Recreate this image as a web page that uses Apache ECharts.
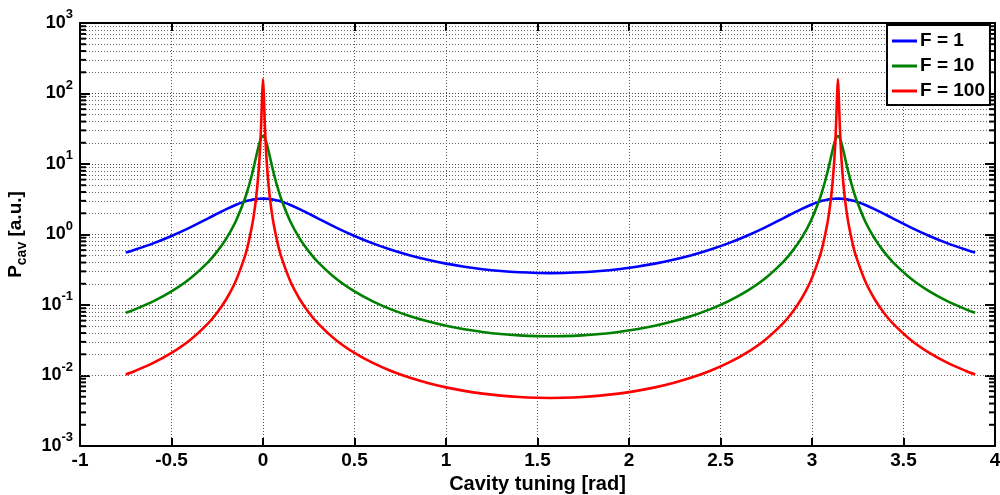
<!DOCTYPE html>
<html>
<head>
<meta charset="utf-8">
<script src="https://cdn.jsdelivr.net/npm/echarts@6/dist/echarts.min.js"></script>
<style>html,body{margin:0;padding:0;background:#fff;}#c{width:1000px;height:495px;}</style>
</head>
<body>
<div id="c"></div>
<script>
// ---- data ----
const xValues = [
  -0.75,-0.7,-0.6,-0.5,-0.4,-0.3,-0.25,-0.2,-0.15,-0.1,
  -0.08,-0.06,-0.05,-0.04,-0.03,-0.02,-0.015,-0.01,-0.005,0,
  0.005,0.01,0.015,0.02,0.03,0.04,0.05,0.06,0.08,0.1,
  0.15,0.2,0.25,0.3,0.4,0.5,0.6,0.7,0.8,0.9,
  1.0,1.1,1.2,1.3,1.4,1.5,1.571,
  1.6416,1.7416,1.8416,1.9416,2.0416,2.1416,2.2416,2.3416,2.4416,2.5416,
  2.6416,2.7416,2.8416,2.8916,2.9416,2.9916,3.0416,3.0616,3.0816,3.0916,
  3.1016,3.1116,3.1216,3.1266,3.1316,3.1366,3.1416,3.1466,3.1516,3.1566,
  3.1616,3.1716,3.1816,3.1916,3.2016,3.2216,3.2416,3.2916,3.3416,3.3916,
  3.4416,3.5416,3.6416,3.7416,3.8416,3.8916
];
const seriesNames = ['F = 1', 'F = 10', 'F = 100'];
const valuesF1 = [
  0.554,0.608,0.748,0.953,1.253,1.693,1.974,2.290,2.621,2.927,
  3.029,3.114,3.148,3.177,3.200,3.217,3.222,3.227,3.229,3.23,
  3.229,3.227,3.222,3.217,3.200,3.177,3.148,3.114,3.029,2.927,
  2.621,2.290,1.974,1.693,1.253,0.953,0.748,0.608,0.5085,0.4376,
  0.3862,0.3488,0.3219,0.3031,0.2910,0.2846,0.2833,
  0.2846,0.2910,0.3031,0.3219,0.3488,0.3862,0.4376,0.5085,0.608,0.748,
  0.953,1.253,1.693,1.974,2.290,2.621,2.927,3.029,3.114,3.148,
  3.177,3.200,3.217,3.222,3.227,3.229,3.23,3.229,3.227,3.222,
  3.217,3.200,3.177,3.148,3.114,3.029,2.927,2.621,2.290,1.974,
  1.693,1.253,0.953,0.748,0.608,0.554
];
const valuesF10 = [
  0.0774,0.0866,0.1127,0.1560,0.2357,0.4064,0.5758,0.8818,1.518,3.162,
  4.608,7.159,9.154,11.85,15.40,19.57,21.63,23.38,24.57,25,
  24.57,23.38,21.63,19.57,15.40,11.85,9.154,7.159,4.608,3.162,
  1.518,0.8818,0.5758,0.4064,0.2357,0.1560,0.1127,0.0866,0.0699,0.0587,
  0.0508,0.0453,0.0415,0.0388,0.0371,0.0362,0.0360,
  0.0362,0.0371,0.0388,0.0415,0.0453,0.0508,0.0587,0.0699,0.0866,0.1127,
  0.1560,0.2357,0.4064,0.5758,0.8818,1.518,3.162,4.608,7.159,9.154,
  11.85,15.40,19.57,21.63,23.38,24.57,25,24.57,23.38,21.63,
  19.57,15.40,11.85,9.154,7.159,4.608,3.162,1.518,0.8818,0.5758,
  0.4064,0.2357,0.1560,0.1127,0.0866,0.0774
];
const valuesF100 = [
  0.01034,0.01158,0.01507,0.02091,0.03169,0.0550,0.07847,0.1217,0.2149,0.4806,
  0.7487,1.326,1.901,2.948,5.166,11.17,18.84,36.95,87.31,160,
  87.31,36.95,18.84,11.17,5.166,2.948,1.901,1.326,0.7487,0.4806,
  0.2149,0.1217,0.07847,0.0550,0.03169,0.02091,0.01507,0.01158,0.009336,0.00783,
  0.006785,0.006049,0.005531,0.005175,0.004948,0.004829,0.004805,
  0.004829,0.004948,0.005175,0.005531,0.006049,0.006785,0.00783,0.009336,0.01158,0.01507,
  0.02091,0.03169,0.0550,0.07847,0.1217,0.2149,0.4806,0.7487,1.326,1.901,
  2.948,5.166,11.17,18.84,36.95,87.31,160,87.31,36.95,18.84,
  11.17,5.166,2.948,1.901,1.326,0.7487,0.4806,0.2149,0.1217,0.07847,
  0.0550,0.03169,0.02091,0.01507,0.01158,0.01034
];
const seriesColors = ['#0000ff', '#008000', '#ff0000'];
const xMin = -1, xMax = 4, xInterval = 0.5;
const yDecadeExponents = [-3, -2, -1, 0, 1, 2, 3];
const minorMultipliers = [2, 3, 4, 5, 6, 7, 8, 9];

// ---- build ----
const FONT = '"Liberation Sans", Arial, Helvetica, sans-serif';
const yMin = Math.pow(10, yDecadeExponents[0]);
const yMax = Math.pow(10, yDecadeExponents[yDecadeExponents.length - 1]);
const minorVals = [];
yDecadeExponents.slice(0, -1).forEach(e => {
  minorMultipliers.forEach(m => minorVals.push(m * Math.pow(10, e)));
});
const dotStyle = [1, 2];

function mk(name, vals, color) {
  return {
    name: name, type: 'line', data: xValues.map((x, i) => [x, vals[i]]),
    showSymbol: false, symbol: 'none', z: 5, smooth: 0.3,
    lineStyle: { color: color, width: 2.6 }, itemStyle: { color: color }
  };
}

const axisLineStyle = { color: '#000', width: 2 };
const option = {
  animation: false,
  backgroundColor: '#fff',
  grid: { left: 80, right: 5, top: 23, bottom: 49, containLabel: false, outerBoundsMode: 'none' },
  legend: {
    data: seriesNames, orient: 'vertical', left: 887, top: 25,
    backgroundColor: '#fff', borderColor: '#000', borderWidth: 2,
    padding: [6, 5, 4, 5], itemGap: 5, itemWidth: 25, itemHeight: 3, icon: 'rect',
    textStyle: { fontFamily: FONT, fontWeight: 'bold', fontSize: 19, color: '#000', lineHeight: 20, padding: [0, 0, 0, -2] },
    z: 10
  },
  xAxis: [{
    type: 'value', min: xMin, max: xMax, interval: xInterval, position: 'bottom',
    axisLine: { show: true, onZero: false, lineStyle: axisLineStyle },
    axisTick: { show: true, inside: true, length: 8, lineStyle: { color: '#000', width: 2 } },
    axisLabel: { color: '#000', fontFamily: FONT, fontWeight: 'bold', fontSize: 19, margin: 5 },
    splitLine: { show: true, lineStyle: { type: dotStyle, color: '#555', width: 1 } },
    name: 'Cavity tuning [rad]', nameLocation: 'middle', nameGap: 26,
    nameTextStyle: { color: '#000', fontFamily: FONT, fontWeight: 'bold', fontSize: 20 }
  }, {
    type: 'value', min: xMin, max: xMax, interval: xInterval, position: 'top',
    axisLine: { show: true, onZero: false, lineStyle: axisLineStyle },
    axisTick: { show: true, inside: true, length: 8, lineStyle: { color: '#000', width: 2 } },
    axisLabel: { show: false }, splitLine: { show: false }
  }],
  yAxis: [{
    type: 'log', logBase: 10, min: yMin, max: yMax, splitNumber: 6, position: 'left',
    axisLine: { show: true, onZero: false, lineStyle: axisLineStyle },
    axisTick: { show: true, inside: true, length: 10, lineStyle: { color: '#000', width: 2 } },
    axisLabel: {
      margin: 7,
      formatter: function (v) { return '{b|10}{s|' + Math.round(Math.log10(v)) + '}'; },
      rich: {
        b: { fontFamily: FONT, fontWeight: 'bold', fontSize: 18, color: '#000', lineHeight: 30, verticalAlign: 'middle' },
        s: { fontFamily: FONT, fontWeight: 'bold', fontSize: 13, color: '#000', lineHeight: 13, verticalAlign: 'top' }
      }
    },
    splitLine: { show: true, lineStyle: { type: dotStyle, color: '#444', width: 1 } },
    name: '{p|P}{c|cav}{p| [a.u.]}', nameLocation: 'middle', nameGap: 51, nameRotate: 90,
    nameTextStyle: {
      rich: {
        p: { fontFamily: FONT, fontWeight: 'bold', fontSize: 19, color: '#000', lineHeight: 26, verticalAlign: 'middle' },
        c: { fontFamily: FONT, fontWeight: 'bold', fontSize: 14, color: '#000', lineHeight: 14, verticalAlign: 'bottom' }
      }
    }
  }, {
    type: 'log', logBase: 10, min: yMin, max: yMax, splitNumber: 6, position: 'right',
    axisLine: { show: true, onZero: false, lineStyle: axisLineStyle },
    axisTick: { show: true, inside: true, length: 10, lineStyle: { color: '#000', width: 2 } },
    axisLabel: { show: false }, splitLine: { show: false }
  }],
  series: [
    {
      name: 'minorgrid', type: 'line', data: [], z: 1, silent: true,
      markLine: {
        silent: true, symbol: ['none', 'none'], label: { show: false }, animation: false,
        lineStyle: { type: dotStyle, color: '#666', width: 1 },
        data: minorVals.map(v => ({ yAxis: v }))
      }
    },
    {
      name: 'minorticks', type: 'custom', silent: true, z: 6, clip: false,
      data: minorVals.map(v => [xMin, v]),
      encode: { x: 0, y: 1 },
      renderItem: function (params, api) {
        const l = api.coord([xMin, api.value(1)]);
        const r = api.coord([xMax, api.value(1)]);
        const st = { stroke: '#000', lineWidth: 2 };
        return {
          type: 'group', children: [
            { type: 'line', shape: { x1: l[0], y1: l[1], x2: l[0] + 6, y2: l[1] }, style: st },
            { type: 'line', shape: { x1: r[0] - 6, y1: r[1], x2: r[0], y2: r[1] }, style: st }
          ]
        };
      }
    },
    mk(seriesNames[0], valuesF1, seriesColors[0]),
    mk(seriesNames[1], valuesF10, seriesColors[1]),
    mk(seriesNames[2], valuesF100, seriesColors[2])
  ]
};
const chart = echarts.init(document.getElementById('c'), null, { renderer: 'canvas' });
chart.setOption(option);
</script>
</body>
</html>
